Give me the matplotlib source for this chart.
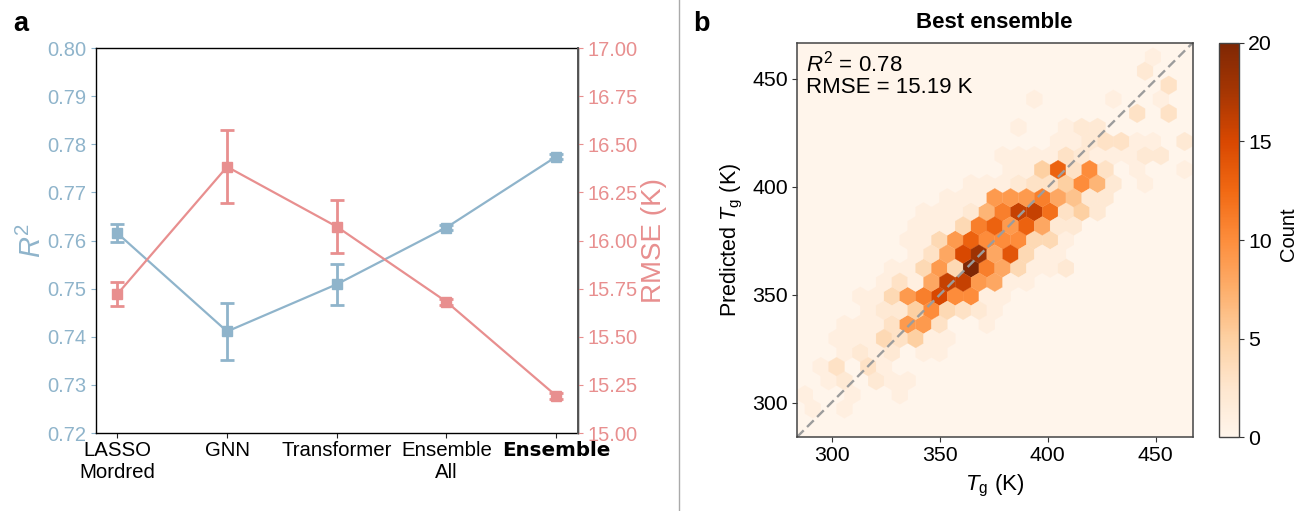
import numpy as np
import matplotlib
matplotlib.use("Agg")
import matplotlib.pyplot as plt
from matplotlib.lines import Line2D

plt.rcParams['font.family'] = ['Liberation Sans', 'DejaVu Sans']
plt.rcParams['mathtext.fontset'] = 'custom'
plt.rcParams['mathtext.rm'] = 'Liberation Sans'
plt.rcParams['mathtext.it'] = 'Liberation Sans:italic'
plt.rcParams['mathtext.bf'] = 'Liberation Sans:bold'

models = ['LASSO\nMordred', 'GNN', 'Transformer', 'Ensemble\nAll', 'Ensemble']
r2_mean = [0.7615, 0.7411, 0.7509, 0.7627, 0.7774]
r2_err = [0.0019, 0.0060, 0.0042, 0.0005, 0.0005]
rmse_mean = [15.722, 16.383, 16.072, 15.682, 15.194]
rmse_err = [0.060, 0.190, 0.138, 0.015, 0.015]
r2_ticks = [0.72, 0.73, 0.74, 0.75, 0.76, 0.77, 0.78, 0.79, 0.80]
rmse_ticks = [15.00, 15.25, 15.50, 15.75, 16.00, 16.25, 16.50, 16.75, 17.00]

# hexagon bins: row (from bottom, half-lattice), column, count
hex_rows = list(range(2, 28))
hex_cols = [
    [1, 3], [0, 3, 6], [2, 3, 5, 6, 7], [1, 2, 4, 5], [3, 4, 5, 6, 8, 9],
    [2, 3, 4, 5, 6, 7, 8, 9], [3, 4, 5, 6, 7, 8, 9, 12],
    [4, 5, 6, 7, 8, 9, 10, 11, 12], [4, 5, 6, 7, 8, 9, 10, 11, 12, 13],
    [5, 6, 7, 8, 9, 10, 11, 12, 13, 14], [6, 7, 8, 9, 10, 11, 12, 13, 14, 15, 16, 17],
    [7, 8, 9, 10, 11, 12, 13, 14, 15, 16], [7, 8, 9, 10, 11, 12, 13, 14, 15, 16, 17],
    [7, 8, 9, 10, 11, 12, 13, 14, 15, 16, 17], [8, 9, 10, 11, 12, 13, 14, 15, 16, 17, 18, 19],
    [9, 10, 11, 12, 13, 14, 15, 16, 17, 18, 19], [11, 12, 13, 14, 15, 16, 17, 18, 19, 20, 22],
    [13, 14, 15, 16, 17, 18, 19, 21, 24], [13, 14, 15, 16, 17, 18, 19, 20, 21, 22, 23],
    [16, 17, 18, 19, 20, 21, 22, 24], [14, 17, 18, 19], [21, 23], [15, 20, 23],
    [23], [22], [22],
]
hex_counts = [
    [1, 1], [1, 1, 1], [1, 2, 2, 1, 1], [1, 3, 3, 1], [1, 2, 1, 2, 1, 1],
    [1, 1, 1, 4, 3, 5, 1, 1], [1, 1, 1, 3, 9, 9, 3, 1],
    [1, 2, 2, 5, 10, 4, 3, 2, 1], [1, 1, 4, 9, 11, 15, 10, 10, 1, 1],
    [1, 3, 1, 8, 16, 16, 9, 8, 1, 1], [1, 1, 4, 9, 4, 20, 11, 8, 4, 1, 1, 2],
    [1, 3, 8, 15, 18, 8, 14, 4, 1, 1], [1, 1, 4, 9, 13, 10, 10, 10, 4, 4, 1],
    [1, 1, 1, 4, 11, 13, 9, 13, 8, 2, 2], [1, 1, 1, 2, 7, 11, 16, 16, 12, 3, 5, 2],
    [1, 1, 1, 9, 9, 9, 11, 8, 6, 2, 2], [1, 1, 1, 2, 3, 3, 5, 10, 7, 2, 1],
    [1, 1, 5, 13, 3, 10, 3, 1, 1], [1, 1, 1, 1, 3, 2, 1, 1, 1, 2, 2],
    [1, 1, 2, 3, 3, 1, 1, 2], [1, 1, 2, 2], [3, 3], [1, 1, 1],
    [3], [2], [1],
]

W, H = 1299, 511
BLUE = '#8fb4cb'
RED = '#e88f8f'


def px_axes(fig, left, top, right, bottom):
    return fig.add_axes([left / W, 1 - bottom / H, (right - left) / W, (bottom - top) / H])


fig = plt.figure(figsize=(W / 100, H / 100), dpi=100)

# panel a
ax = px_axes(fig, 95.5, 48, 578, 433)
ax2 = ax.twinx()
xs = np.arange(len(models))
style = dict(fmt='-s', lw=1.6, ms=6.5, elinewidth=2, capsize=4.8, capthick=2)
ax.errorbar(xs, r2_mean, yerr=r2_err, color=BLUE, **style)
ax2.errorbar(xs, rmse_mean, yerr=rmse_err, color=RED, **style)
ax.set_xlim(-0.2, 4.2)
ax.set_ylim(0.72, 0.80)
ax2.set_ylim(15, 17)
ax.set_yticks(r2_ticks)
ax.set_yticklabels([f'{v:.2f}' for v in r2_ticks])
ax2.set_yticks(rmse_ticks)
ax2.set_yticklabels([f'{v:.2f}' for v in rmse_ticks])
ax.set_xticks(xs)
ax.set_xticklabels(models, fontsize=14.7, linespacing=1.2)
last = ax.get_xticklabels()[-1]
last.set_fontweight('bold')
last.set_fontfamily('DejaVu Sans')
last.set_fontsize(14.3)
ax.tick_params(axis='x', length=3.5, width=0.8, pad=2, color='#222222')
ax.tick_params(axis='y', labelsize=14.5, colors=BLUE, length=3.5, width=0.8, pad=3)
ax2.tick_params(axis='y', labelsize=14.5, colors=RED, length=3.5, width=0.8, pad=3)
ax.set_ylabel('$R^2$', color=BLUE, fontsize=21, labelpad=0)
ax2.set_ylabel('RMSE (K)', color=RED, fontsize=20, labelpad=3)
for s in ax.spines.values():
    s.set_linewidth(1.0)
ax2.spines['right'].set_color('#555555')
ax2.spines['right'].set_linewidth(1.4)
for s in ('left', 'top', 'bottom'):
    ax2.spines[s].set_visible(False)

# panel b
bx = px_axes(fig, 797, 43, 1192.5, 437)
XLIM = (284.0, 467.0)
YLIM = (284.2, 466.6)
GRID = 25
sx = (XLIM[1] - XLIM[0]) / GRID
sy = (YLIM[1] - YLIM[0]) / int(GRID / np.sqrt(3))
hx, hy, hc = [], [], []
for row, cols, counts in zip(hex_rows, hex_cols, hex_counts):
    for col, n in zip(cols, counts):
        hx.append(XLIM[0] + (col + 0.5 * (row % 2)) * sx)
        hy.append(YLIM[0] + row / 2 * sy)
        hc.append(n)
bx.set_facecolor(plt.get_cmap('Oranges')(0.0))
hb = bx.hexbin(hx, hy, C=hc, reduce_C_function=np.sum, gridsize=GRID,
               extent=(*XLIM, *YLIM), cmap='Oranges', vmin=0, vmax=20,
               linewidths=0.2)
bx.plot(XLIM, YLIM, ls='--', color='#9c9c9c', lw=1.7, dashes=(4, 2))
bx.set_xlim(*XLIM)
bx.set_ylim(*YLIM)
bx.set_xticks([300, 350, 400, 450])
bx.set_yticks([300, 350, 400, 450])
bx.tick_params(labelsize=15.3, length=3.5, width=0.8, pad=3, color='#333333')
bx.set_xlabel(r'$T_{\mathrm{g}}$ (K)', fontsize=16, labelpad=6)
bx.set_ylabel(r'Predicted $T_{\mathrm{g}}$ (K)', fontsize=15.5, labelpad=5)
bx.set_title('Best ensemble', fontsize=16, fontweight='bold', pad=11)
bx.text(0.022, 0.98, '$R^2$ = 0.78\nRMSE = 15.19 K', transform=bx.transAxes,
        fontsize=16, va='top', ha='left', linespacing=1.0)
for s in bx.spines.values():
    s.set_color('#444444')
    s.set_linewidth(1.1)

# colorbar
cax = px_axes(fig, 1219, 43, 1239, 437)
cb = fig.colorbar(hb, cax=cax)
cb.set_ticks([0, 5, 10, 15, 20])
cb.ax.tick_params(labelsize=15.3, length=3.5, width=0.8, pad=3, color='#333333')
cb.set_label('Count', fontsize=14.5, labelpad=5, y=0.515)
cb.outline.set_edgecolor('#444444')
cb.outline.set_linewidth(1.0)

# panel letters and divider
fig.text(13 / W, 1 - 31 / H, 'a', fontsize=19.5, fontweight='bold')
fig.text(693 / W, 1 - 31 / H, 'b', fontsize=19.5, fontweight='bold')
fig.add_artist(Line2D([678.5 / W, 678.5 / W], [0, 1], color='#aaaaaa', lw=1.0))

fig.savefig('out.png', dpi=100)
